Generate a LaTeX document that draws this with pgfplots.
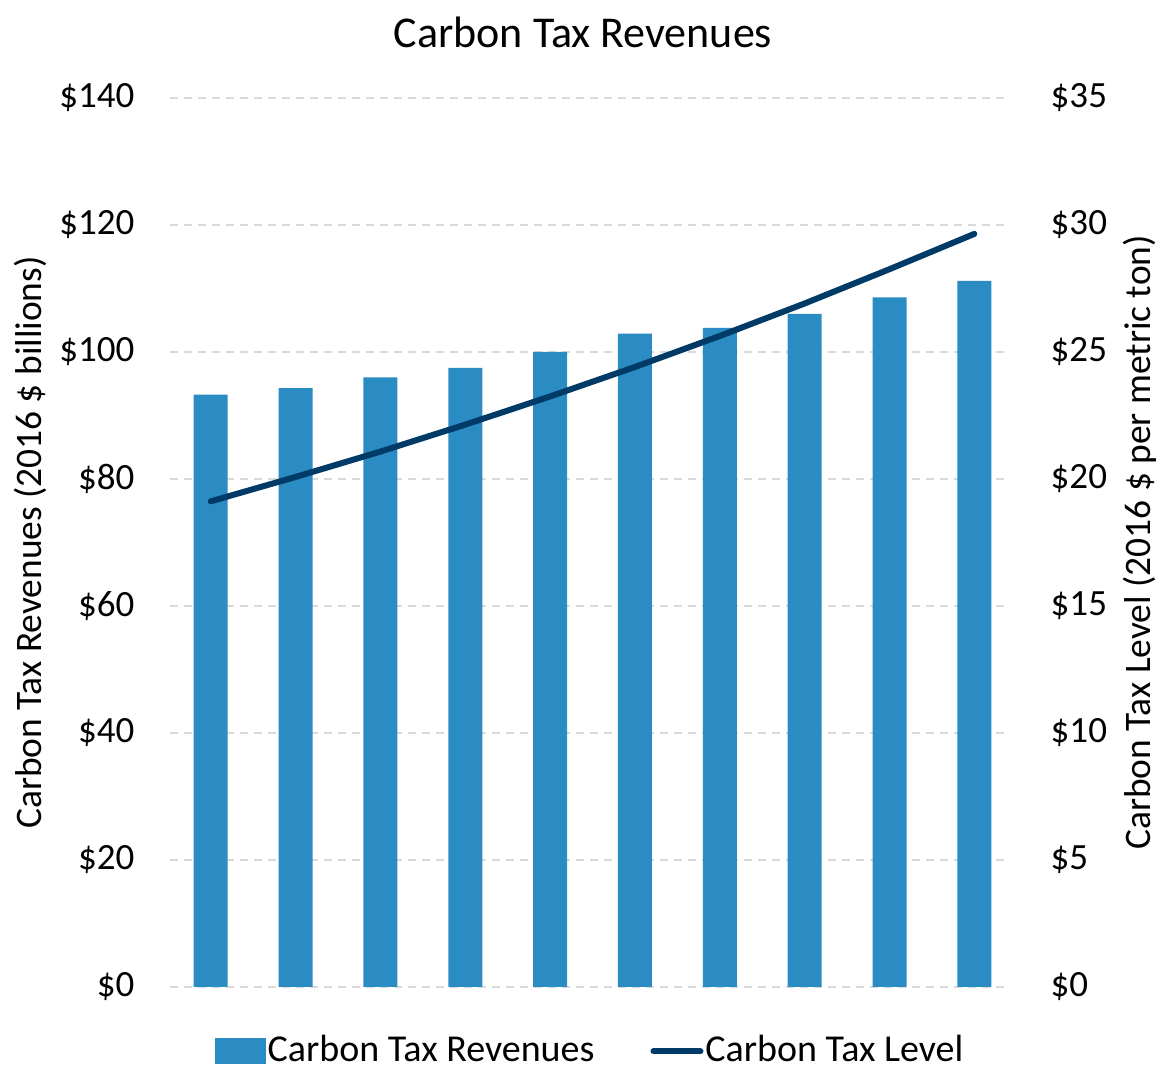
\documentclass[border=0pt]{standalone}
\usepackage{pgfplots}
\pgfplotsset{compat=1.18}
\usepackage{fontspec}
\setmainfont{Carlito}
\definecolor{barblue}{HTML}{2A8CC2}
\definecolor{linenavy}{HTML}{003A66}
\definecolor{gridgray}{HTML}{D9D9D9}
\pgfplotstableread{
x rev level
0 93.3 19.12
1 94.3 20.08
2 96.0 21.08
3 97.5 22.14
4 100.0 23.25
5 102.9 24.41
6 103.8 25.63
7 106.0 26.91
8 108.6 28.26
9 111.2 29.65
}\datatable
\begin{document}
\fontsize{18.5}{21}\selectfont
\begin{tikzpicture}
\useasboundingbox (-85pt,-40.5pt) rectangle (495.5pt,493.5pt);
\begin{axis}[
  at={(0,0)}, anchor=south west,
  scale only axis, width=420pt, height=444.5pt,
  xmin=-0.48, xmax=9.42, ymin=0, ymax=140,
  xtick=\empty,
  ytick={0,20,...,140},
  yticklabels={\$0,\$20,\$40,\$60,\$80,\$100,\$120,\$140},
  yticklabel style={xshift=-11.5pt},
  ticklabel style={font=\fontsize{18.5}{21}\selectfont},
  axis line style={draw=none},
  tick style={draw=none},
  ymajorgrids,
  grid style={gridgray, line width=0.75pt, dash pattern=on 4pt off 3pt},
  ylabel={Carbon Tax Revenues (2016 \$ billions)},
  ylabel style={at={(axis description cs:-0.1667,0.5)}, anchor=center, font=\fontsize{18.7}{21}\selectfont},
  legend style={at={(axis description cs:0.5,-0.0725)}, anchor=center, draw=none, fill=none,
    legend columns=2, font=\fontsize{19}{21}\selectfont, inner sep=0pt,
    nodes={inner sep=1pt},
    /tikz/every even column/.append style={column sep=27pt}},
  legend cell align=left,
]
\addplot[ybar, bar width=17pt, fill=barblue, draw=none,
  legend image code/.code={\fill[barblue] (0pt,-6.5pt) rectangle (25.5pt,6.5pt);}]
  table[x=x, y=rev] {\datatable};
\addlegendentry{Carbon Tax Revenues}
\addlegendimage{legend image code/.code={\draw[linenavy, line width=3pt, line cap=round] (1.5pt,0pt) -- (25pt,0pt);}}
\addlegendentry{Carbon Tax Level}
\end{axis}
\begin{axis}[
  at={(0,0)}, anchor=south west,
  scale only axis, width=420pt, height=444.5pt,
  xmin=-0.48, xmax=9.42, ymin=0, ymax=35,
  axis x line=none,
  axis y line*=right,
  y axis line style={draw=none},
  ytick={0,5,...,35},
  yticklabels={\$0,\$5,\$10,\$15,\$20,\$25,\$30,\$35},
  yticklabel style={xshift=14pt, font=\fontsize{18.5}{21}\selectfont},
  tick style={draw=none},
  ylabel={Carbon Tax Level (2016 \$ per metric ton)},
  ylabel style={at={(axis description cs:1.1548,0.5)}, anchor=center, font=\fontsize{18.7}{21}\selectfont},
]
\addplot[linenavy, line width=3pt, line cap=round, line join=round, mark=none]
  table[x=x, y=level] {\datatable};
\end{axis}
\node[font=\fontsize{22}{25}\selectfont] at (206.5pt,477.5pt) {Carbon Tax Revenues};
\end{tikzpicture}
\end{document}
